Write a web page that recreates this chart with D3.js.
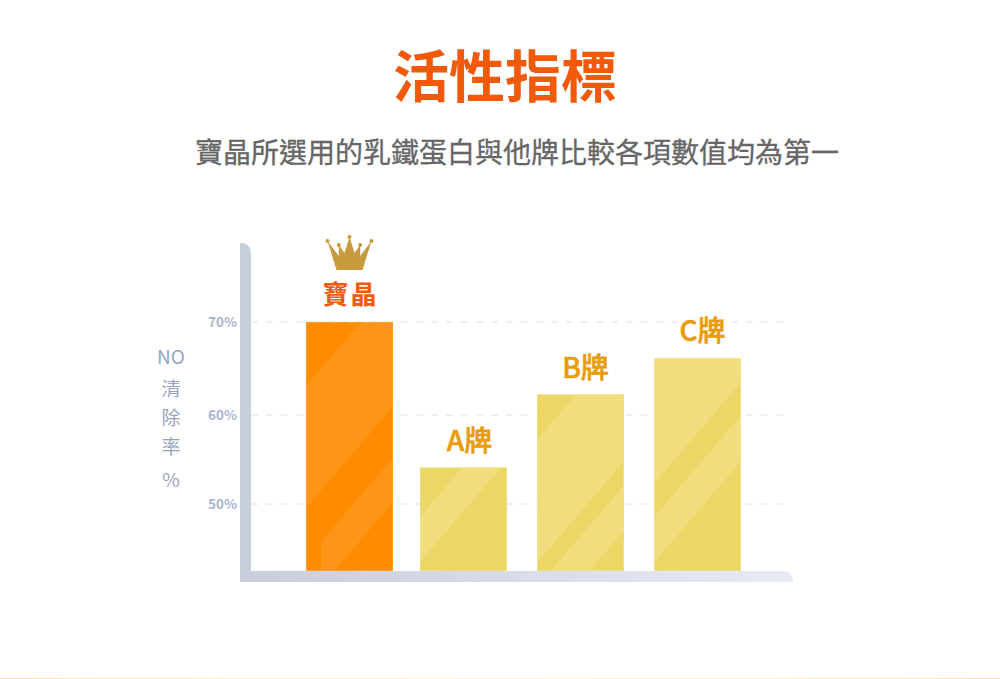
<!DOCTYPE html>
<html>
<head>
<meta charset="utf-8">
<script src="https://cdn.jsdelivr.net/npm/d3@7"></script>
<style>
  html, body { margin: 0; padding: 0; background: #fff; }
  svg { display: block; }
  text { font-family: "Noto Sans CJK TC", "Noto Sans", sans-serif; }
</style>
</head>
<body>
<div id="chart"></div>
<script>
const titleText = '活性指標';
const subtitleText = '寶晶所選用的乳鐵蛋白與他牌比較各項數值均為第一';
const brands = ['寶晶', 'A牌', 'B牌', 'C牌'];
const noRemoval = [70, 54.1, 62.2, 66.1];
const tickValues = [50, 60, 70];
const yTitleParts = ['NO', '清', '除', '率', '%'];

// light stripes on each bar: y where the edges cross the bar's left side
const barStripes = [
  [[386, 508, 0], [559, 604, 15]],
  [[517, 562, 0]],
  [[440, 563, 0], [587, 632, 0]],
  [[300, 484, 0], [517, 563, 0]],
];
const stripeSlope = 1.17;

const width = 1000, height = 679;
const barWidth = 87;
const axisFloor = 42.5;

// picture is hand laid out, so the scales are not quite even
const x = d3.scaleOrdinal().domain(brands).range([306, 420, 537, 654]);
const y = d3.scaleLinear().domain([axisFloor, 50, 60, 70]).range([571, 504, 415, 322]);
const labelShift = d3.scaleOrdinal().domain(brands).range([1, 6, 5, 5]);

const svg = d3.select('#chart').append('svg')
  .attr('width', width).attr('height', height);

const defs = svg.append('defs');

const axisGrad = defs.append('linearGradient').attr('id', 'axis-grad')
  .attr('gradientUnits', 'userSpaceOnUse')
  .attr('x1', 240).attr('x2', 793).attr('y1', 0).attr('y2', 0);
axisGrad.append('stop').attr('offset', 0).attr('stop-color', '#c8cdda');
axisGrad.append('stop').attr('offset', 1).attr('stop-color', '#e8ebf2');

const footGrad = defs.append('linearGradient').attr('id', 'foot-grad');
footGrad.append('stop').attr('offset', 0).attr('stop-color', '#fbe3b8');
footGrad.append('stop').attr('offset', 0.5).attr('stop-color', '#fff3dc');
footGrad.append('stop').attr('offset', 1).attr('stop-color', '#fbe3b8');

svg.append('text').attr('x', 505).attr('y', 97)
  .attr('text-anchor', 'middle')
  .style('font-size', '56px').style('font-weight', 700).style('fill', '#f15a0a')
  .text(titleText);

svg.append('text').attr('x', 517).attr('y', 163)
  .attr('text-anchor', 'middle')
  .style('font-size', '28px').style('font-weight', 400).style('fill', '#666')
  .style('stroke', '#666').style('stroke-width', '0.3px')
  .text(subtitleText);

// grid
svg.append('g').selectAll('line').data(tickValues).join('line')
  .attr('x1', 251).attr('x2', 783)
  .attr('y1', (d) => y(d)).attr('y2', (d) => y(d))
  .attr('stroke', '#dde0ea').attr('stroke-width', 1).attr('stroke-dasharray', '7 8');

svg.append('g').selectAll('text').data(tickValues).join('text')
  .attr('x', 237).attr('y', (d) => y(d) + 5)
  .attr('text-anchor', 'end')
  .style('font-size', '13.5px').style('font-weight', 700).style('fill', '#a9b4d2')
  .text((d) => `${d}%`);

// y title, stacked by hand
const yTitleRows = d3.scaleOrdinal().domain(yTitleParts).range([364, 396, 425, 454, 487]);
svg.append('g').selectAll('text').data(yTitleParts).join('text')
  .attr('x', 171).attr('y', (d) => yTitleRows(d))
  .attr('text-anchor', 'middle')
  .style('font-size', '19px').style('fill', '#98a3c1')
  .text((d) => d);

// bars
const bars = svg.append('g').selectAll('g').data(brands).join('g');

bars.each(function (brand, i) {
  const g = d3.select(this);
  const left = x(brand);
  const top = y(noRemoval[i]);
  const bottom = y(axisFloor);
  const lead = i === 0;

  const clipId = `bar-clip-${i}`;
  defs.append('clipPath').attr('id', clipId).append('rect')
    .attr('x', left).attr('y', top).attr('width', barWidth).attr('height', bottom - top);

  g.append('rect')
    .attr('x', left).attr('y', top).attr('width', barWidth).attr('height', bottom - top)
    .attr('fill', lead ? '#ff8b00' : '#ecd665');

  g.append('g').attr('clip-path', `url(#${clipId})`)
    .selectAll('path').data(barStripes[i]).join('path')
    .attr('d', ([upper, lower, inset]) => {
      const l = left + inset;
      const r = left + barWidth;
      const line = d3.line();
      return line([
        [l, upper - inset * stripeSlope],
        [r, upper - barWidth * stripeSlope],
        [r, lower - barWidth * stripeSlope],
        [l, lower - inset * stripeSlope],
      ]) + 'Z';
    })
    .attr('fill', lead ? '#ff9516' : '#f0de7c');

  g.append('rect')
    .attr('x', left + 0.5).attr('y', top + 0.5).attr('width', barWidth - 1).attr('height', bottom - top - 1)
    .attr('fill', 'none')
    .attr('stroke', lead ? '#ffa733' : '#f3e48f').attr('stroke-width', 1).attr('stroke-opacity', 0.6);

  g.append('text')
    .attr('x', left + barWidth / 2 + labelShift(brand)).attr('y', top - (lead ? 18 : 17))
    .attr('text-anchor', 'middle')
    .style('font-size', lead ? '26px' : '28px')
    .style('letter-spacing', lead ? '2px' : '0')
    .style('font-weight', lead ? 700 : 500)
    .style('fill', lead ? '#f15a0a' : '#e89c0a')
    .style('stroke', lead ? 'none' : '#e89c0a')
    .style('stroke-width', lead ? 0 : '0.6px')
    .text(brand);
});

// L shaped axis, over the feet of the bars
svg.append('path')
  .attr('d', 'M240,243 Q251,243 251,254 L251,571 L783,571 Q793,571 793,582 L240,582 Z')
  .attr('fill', 'url(#axis-grad)');

// crown over the winner
svg.append('g').attr('transform', `translate(${x(brands[0]) + barWidth / 2},0)`)
  .call((crown) => {
    crown.append('path')
      .attr('d', 'M-22,241 L-13,270 L13,270 L22,241 L10.7,256 L10.7,245 L5,253 L0,237 L-5,253 L-10.7,245 L-10.7,256 Z')
      .attr('fill', '#c69a3d');
    crown.selectAll('circle').data([[-22, 241], [-10.7, 245], [0, 237], [10.7, 245], [22, 241]]).join('circle')
      .attr('cx', (d) => d[0]).attr('cy', (d) => d[1]).attr('r', 2)
      .attr('fill', '#c69a3d');
  });

svg.append('rect').attr('x', 0).attr('y', 678).attr('width', width).attr('height', 1)
  .attr('fill', 'url(#foot-grad)');
</script>
</body>
</html>
